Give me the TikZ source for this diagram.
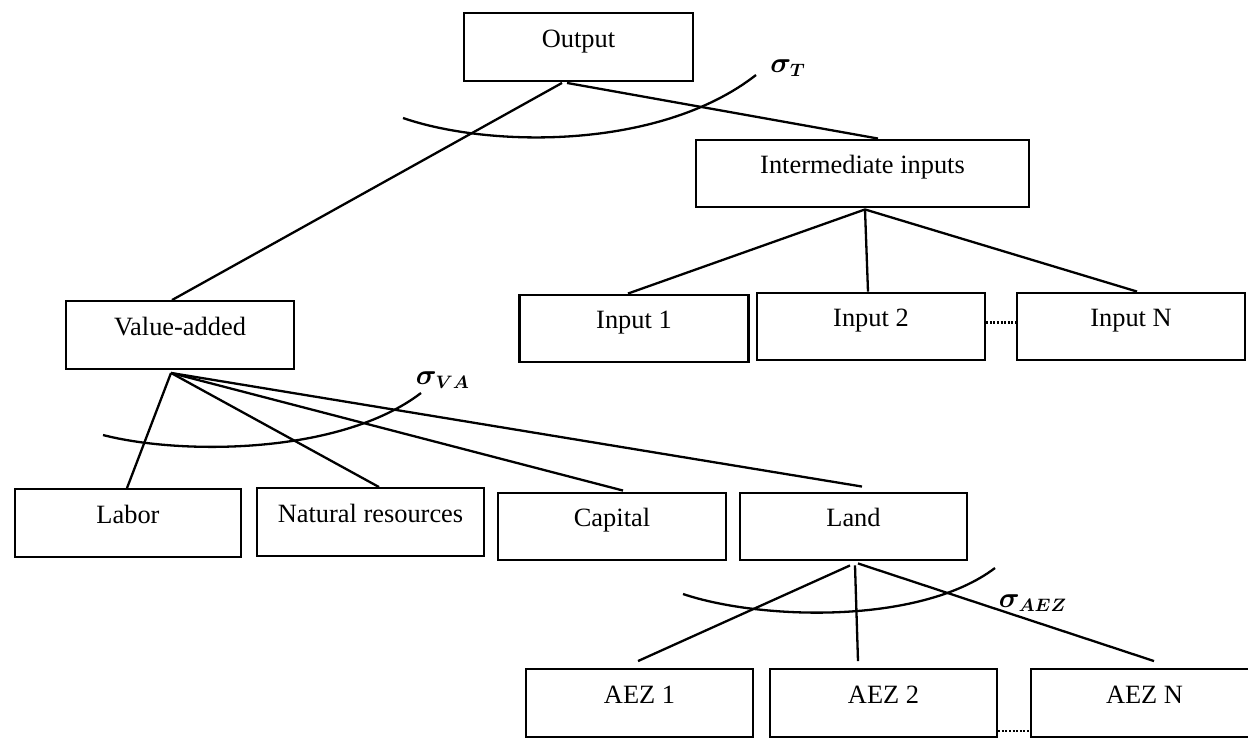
\documentclass[tikz,border=0pt]{standalone}
\usepackage{fontspec}
\usepackage{amsmath}
\usepackage{bm}
\setmainfont{Liberation Serif}
\usetikzlibrary{calc}
\begin{document}
\begin{tikzpicture}[x=0.5pt,y=-0.5pt,
  nbox/.style={draw, line width=1.2pt, inner xsep=0pt, inner ysep=0pt,
    text height=17pt, text depth=16.75pt, minimum width=#1,
    font=\fontsize{13.2}{15}\selectfont},
  conn/.style={line width=1.15pt},
  elas/.style={line width=1.15pt},
  dotline/.style={line width=1.1pt, dash pattern=on 1pt off 0.8pt},
  siglab/.style={inner sep=0pt, font=\fontsize{13.5}{15}\selectfont}]
\useasboundingbox (0,0) rectangle (1248,738);

% boxes
\node[nbox=114.5pt] (out)   at (578.5,47)   {Output};
\node[nbox=166.5pt] (inter) at (862.5,173.5) {Intermediate inputs};
\node[nbox=114.5pt] (in1)   at (634,328.5)  {Input 1};
\node[nbox=114pt]   (in2)   at (871,326.5)  {Input 2};
\node[nbox=114pt]   (inN)   at (1131,326.5) {Input N};
\node[nbox=114pt]   (va)    at (180,335)    {Value-added};
\node[nbox=113pt]   (labor) at (128,523)    {Labor};
\node[nbox=113.5pt] (nat)   at (370.5,522)  {Natural resources};
\node[nbox=114pt]   (cap)   at (612,526.5)  {Capital};
\node[nbox=113.5pt] (land)  at (853.5,526.5) {Land};
\node[nbox=113.5pt] (aez1)  at (639.5,703)  {AEZ 1};
\node[nbox=113.5pt] (aez2)  at (883.5,703)  {AEZ 2};
\node[nbox=113.5pt] (aezN)  at (1144.5,703) {AEZ N};

% connectors
\draw[conn] ($(out.south)+(-16.5,1)$) -- ($(va.north)+(-8,0)$);
\draw[conn] ($(out.south)+(-11.5,1)$) -- ($(inter.north)+(15.5,0)$);

\draw[conn] ($(inter.south)+(2.5,1)$) -- ($(in1.north)+(-6,0)$);
\draw[conn] ($(inter.south)+(2.5,1)$) -- ($(in2.north)+(-3,0)$);
\draw[conn] ($(inter.south)+(2.5,1)$) -- ($(inN.north)+(6,0)$);

\draw[conn] ($(va.south)+(-9,3)$) -- ($(labor.north)+(-1,0)$);
\draw[conn] ($(va.south)+(-9,3)$) -- ($(nat.north)+(8.5,0)$);
\draw[conn] ($(va.south)+(-9,3)$) -- ($(cap.north)+(11,-1)$);
\draw[conn] ($(va.south)+(-9,3)$) -- ($(land.north)+(8.5,-5)$);

\draw[conn] ($(land.south)+(-3.5,4)$) -- ($(aez1.north)+(-1.5,-7)$);
\draw[conn] ($(land.south)+(1.5,4)$)  -- ($(aez2.north)+(-25.5,-7)$);
\draw[conn] ($(land.south)+(4.5,2)$)  -- ($(aezN.north)+(9.5,-7)$);

% dotted links
\draw[dotline] ($(in2.east)+(0,-4)$) -- ($(inN.west)+(0,-4)$);
\draw[dotline] ($(aez2.east)+(0,28)$) -- ($(aezN.west)+(0,28)$);

% elasticity arcs
\coordinate (tA) at (403,118);
\coordinate (tB) at (756,75);
\draw[elas] (tA) .. controls (490,148) and (660,150) .. (tB);
\coordinate (vA) at (103,435);
\coordinate (vB) at (421,393);
\draw[elas] (vA) .. controls (180,455) and (340,455) .. (vB);
\coordinate (aA) at (683,594);
\coordinate (aB) at (995,568);
\draw[elas] (aA) .. controls (760,620) and (920,625) .. (aB);

% labels
\node[siglab] (sT)   at (788,68)   {$\bm{\sigma_{T}}$};
\node[siglab] (sVA)  at (443,380)  {$\bm{\sigma_{VA}}$};
\node[siglab] (sAEZ) at (1033,603) {$\bm{\sigma_{AEZ}}$};
\end{tikzpicture}
\end{document}
